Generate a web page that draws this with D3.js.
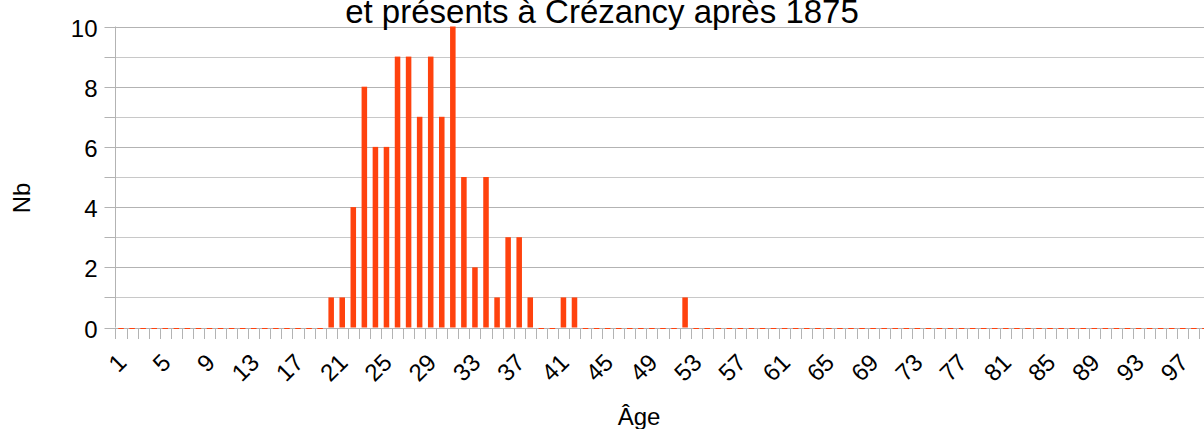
<!DOCTYPE html>
<html>
<head>
<meta charset="utf-8">
<script src="https://cdn.jsdelivr.net/npm/d3@7"></script>
<style>
  body { margin: 0; background: #fff; }
  text { font-family: "Liberation Sans", Arial, sans-serif; fill: #000; }
</style>
</head>
<body>
<div id="chart"></div>
<script>
// ages (categories) and number of people per age
var ages = [1, 2, 3, 4, 5, 6, 7, 8, 9, 10, 11, 12, 13, 14, 15, 16, 17, 18, 19, 20,
  21, 22, 23, 24, 25, 26, 27, 28, 29, 30, 31, 32, 33, 34, 35, 36, 37, 38, 39, 40,
  41, 42, 43, 44, 45, 46, 47, 48, 49, 50, 51, 52, 53, 54, 55, 56, 57, 58, 59, 60,
  61, 62, 63, 64, 65, 66, 67, 68, 69, 70, 71, 72, 73, 74, 75, 76, 77, 78, 79, 80,
  81, 82, 83, 84, 85, 86, 87, 88, 89, 90, 91, 92, 93, 94, 95, 96, 97, 98, 99, 100];
var counts = [0, 0, 0, 0, 0, 0, 0, 0, 0, 0, 0, 0, 0, 0, 0, 0, 0, 0, 0, 1,
  1, 4, 8, 6, 6, 9, 9, 7, 9, 7, 10, 5, 2, 5, 1, 3, 3, 1, 0, 0,
  1, 1, 0, 0, 0, 0, 0, 0, 0, 0, 0, 1, 0, 0, 0, 0, 0, 0, 0, 0,
  0, 0, 0, 0, 0, 0, 0, 0, 0, 0, 0, 0, 0, 0, 0, 0, 0, 0, 0, 0,
  0, 0, 0, 0, 0, 0, 0, 0, 0, 0, 0, 0, 0, 0, 0, 0, 0, 0, 0, 0];
var ageLabels = [1, 5, 9, 13, 17, 21, 25, 29, 33, 37, 41, 45, 49, 53, 57, 61, 65, 69, 73, 77, 81, 85, 89, 93, 97];
var yGrid = [0, 1, 2, 3, 4, 5, 6, 7, 8, 9, 10];

var svgWidth = 1204;
var svgHeight = 429;

var plotLeft = 115.5;
var plotTop = 26.5;
var plotBottom = 327.5;
var step = 11.06;

var svg = d3.select("#chart")
  .append("svg")
  .attr("width", svgWidth)
  .attr("height", svgHeight);

// scales
var x = d3.scaleBand()
  .domain(ages)
  .range([plotLeft, plotLeft + ages.length * step])
  .paddingInner(0.5)
  .paddingOuter(0.25);

var y = d3.scaleLinear()
  .domain([0, 10])
  .range([plotBottom, plotTop]);

// horizontal gridlines
svg.append("g")
  .selectAll("line")
  .data(yGrid)
  .enter()
  .append("line")
  .attr("x1", plotLeft)
  .attr("x2", svgWidth)
  .attr("y1", d => Math.round(y(d)) + 0.5)
  .attr("y2", d => Math.round(y(d)) + 0.5)
  .attr("stroke", d => d % 2 === 0 ? "#b3b3b3" : "#c8c8c8")
  .attr("stroke-width", 1);

// y axis
var leftAxis = d3.axisLeft(y)
  .tickValues(yGrid)
  .tickSize(11)
  .tickPadding(7)
  .tickFormat(d => d % 2 === 0 ? d : "");

var yAxis = svg.append("g")
  .attr("transform", `translate(${plotLeft}, 0)`)
  .call(leftAxis);
yAxis.select(".domain").remove();
yAxis.selectAll("line").attr("stroke", "#b3b3b3");
yAxis.selectAll(".tick").attr("transform", d => `translate(0, ${Math.round(y(d)) + 0.5})`);
yAxis.selectAll("text")
  .attr("font-size", 24)
  .attr("dy", "0.4em")
  .style("font-family", "Liberation Sans, Arial, sans-serif")
  .attr("fill", "#000");

svg.append("line")
  .attr("x1", plotLeft)
  .attr("x2", plotLeft)
  .attr("y1", y(10))
  .attr("y2", y(0))
  .attr("stroke", "#b3b3b3");

// x ticks at category boundaries
var bounds = ages.map(a => x(a) - x.step() * 0.25);
svg.append("g")
  .selectAll("line")
  .data(bounds)
  .enter()
  .append("line")
  .attr("x1", d => Math.round(d) + 0.5)
  .attr("x2", d => Math.round(d) + 0.5)
  .attr("y1", Math.round(y(0)))
  .attr("y2", Math.round(y(0)) + 11)
  .attr("stroke", "#b3b3b3");

// bars (zero values show as a thin line on the baseline)
svg.append("g")
  .selectAll("rect")
  .data(ages)
  .enter()
  .append("rect")
  .attr("x", d => x(d))
  .attr("width", x.bandwidth())
  .attr("y", (d, i) => counts[i] > 0 ? y(counts[i]) : Math.round(y(0)))
  .attr("height", (d, i) => counts[i] > 0 ? y(0) - y(counts[i]) : 1)
  .attr("fill", "#ff420e");

// x labels
svg.append("g")
  .selectAll("text")
  .data(ageLabels)
  .enter()
  .append("text")
  .attr("transform", d => `translate(${x(d) + x.bandwidth() / 2 + 1}, 358) rotate(-45)`)
  .attr("text-anchor", "end")
  .attr("dy", "0.35em")
  .attr("font-size", 24)
  .text(d => d);

// axis titles
svg.append("text")
  .attr("x", 639)
  .attr("y", 425)
  .attr("text-anchor", "middle")
  .attr("font-size", 24)
  .text("Âge");

svg.append("text")
  .attr("transform", "translate(22, 198) rotate(-90)")
  .attr("text-anchor", "middle")
  .attr("dy", "0.35em")
  .attr("font-size", 24)
  .text("Nb");

// chart title (second line; the first line is above the visible area)
svg.append("text")
  .attr("x", 602)
  .attr("y", 23)
  .attr("text-anchor", "middle")
  .attr("font-size", 33)
  .text("et présents à Crézancy après 1875");
</script>
</body>
</html>
